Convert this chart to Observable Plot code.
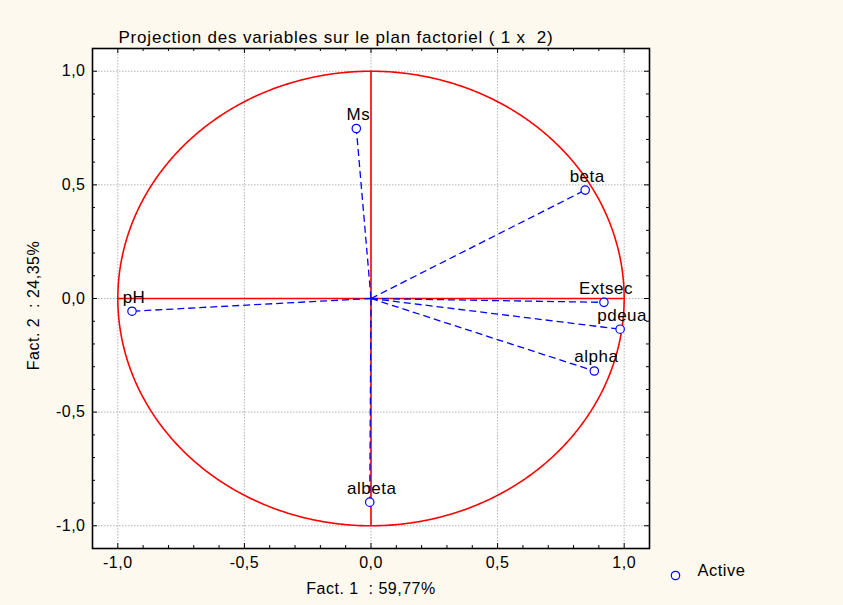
<!DOCTYPE html>
<html>
<head>
<meta charset="utf-8">
<script src="https://cdn.jsdelivr.net/npm/d3@7"></script>
<script src="https://cdn.jsdelivr.net/npm/@observablehq/plot@0.6"></script>
<style>
  html, body { margin: 0; padding: 0; background: #fdf9ef; }
  #chart svg text { letter-spacing: 0.5px; }
  #chart svg .ttl text { letter-spacing: 0.8px; }
</style>
</head>
<body>
<div id="chart"></div>
<script>
// Variable names and their coordinates on the factorial plane
const labels = ["Ms", "beta", "Extsec", "pdeua", "alpha", "pH", "albeta"];
const fact1 = [-0.058, 0.846, 0.92, 0.984, 0.882, -0.944, -0.005];
const fact2 = [0.748, 0.477, -0.017, -0.135, -0.319, -0.056, -0.896];

const majorTicks = [-1, -0.5, 0, 0.5, 1];
const minorTicks = [-1.1, -0.9, -0.8, -0.7, -0.6, -0.4, -0.3, -0.2, -0.1, 0.1, 0.2, 0.3, 0.4, 0.6, 0.7, 0.8, 0.9, 1.1];

const title = "Projection des variables sur le plan factoriel ( 1 x  2)";
const xTitle = "Fact. 1  : 59,77%";
const yTitle = "Fact. 2  : 24,35%";
const legendLabel = "Active";

const vars = labels.map((name, i) => ({name, x: fact1[i], y: fact2[i]}));

// unit correlation circle (reference geometry)
const circle = d3.range(0, 361, 1).map(a => ({x: Math.cos(a * Math.PI / 180), y: Math.sin(a * Math.PI / 180)}));

const W = 843, H = 605;
const mL = 92, mR = 194, mT = 48, mB = 57;
const pw = W - mL - mR, ph = H - mT - mB;
const fmt = d => d3.format(".1f")(d).replace(".", ",").replace("\u2212", "-");
const font = "'Liberation Sans', Arial, sans-serif";
const blue = "#0000ff", red = "#ff0000";

const chart = Plot.plot({
  width: W, height: H,
  marginLeft: mL, marginRight: mR, marginTop: mT, marginBottom: mB,
  style: {fontFamily: font, background: "transparent", color: "black", overflow: "visible"},
  x: {domain: [-1.1, 1.1], axis: null},
  y: {domain: [-1.1, 1.1], axis: null},
  marks: [
    Plot.frame({fill: "white", stroke: "none"}),
    // grid
    Plot.ruleX(majorTicks, {stroke: "#b5b5b5", strokeDasharray: "1.5,1.5", strokeWidth: 1}),
    Plot.ruleY(majorTicks, {stroke: "#b5b5b5", strokeDasharray: "1.5,1.5", strokeWidth: 1}),
    // circle and axes
    Plot.line(circle, {x: "x", y: "y", stroke: red, strokeWidth: 1.6, strokeDasharray: "3,0.6"}),
    Plot.ruleX([0], {y1: -1, y2: 1, stroke: red, strokeWidth: 1.6}),
    Plot.ruleY([0], {x1: -1, x2: 1, stroke: red, strokeWidth: 1.6}),
    // vectors
    Plot.link(vars, {x1: () => 0, y1: () => 0, x2: "x", y2: "y", stroke: blue, strokeWidth: 1.3, strokeDasharray: "7,4"}),
    Plot.dot(vars, {x: "x", y: "y", r: 4.2, stroke: blue, fill: "white", strokeWidth: 1.2}),
    Plot.text(vars, {x: "x", y: "y", text: "name", dx: 2, dy: -14, fontSize: 17, fill: "black"}),
    // inner ticks
    Plot.tickX(majorTicks, {x: d => d, insetBottom: ph - 5, stroke: "black"}),
    Plot.tickX(minorTicks, {x: d => d, insetBottom: ph - 3, stroke: "black"}),
    Plot.tickX(majorTicks, {x: d => d, insetTop: ph - 5, stroke: "black"}),
    Plot.tickX(minorTicks, {x: d => d, insetTop: ph - 3, stroke: "black"}),
    Plot.tickY(majorTicks, {y: d => d, insetRight: pw - 5, stroke: "black"}),
    Plot.tickY(minorTicks, {y: d => d, insetRight: pw - 3, stroke: "black"}),
    Plot.tickY(majorTicks, {y: d => d, insetLeft: pw - 5, stroke: "black"}),
    Plot.tickY(minorTicks, {y: d => d, insetLeft: pw - 3, stroke: "black"}),
    Plot.frame({stroke: "black", strokeWidth: 1.6}),
    // tick labels
    Plot.text(majorTicks, {x: d => d, frameAnchor: "bottom", dy: 19, text: fmt, fontSize: 16, fill: "black"}),
    Plot.text(majorTicks, {y: d => d, frameAnchor: "left", dx: -7, textAnchor: "end", text: fmt, fontSize: 16, fill: "black"}),
    // titles
    Plot.text([title], {frameAnchor: "top", dx: -35, dy: -18, text: d => d, fontSize: 17, fill: "black", className: "ttl"}),
    Plot.text([xTitle], {frameAnchor: "bottom", dy: 45, text: d => d, fontSize: 16, fill: "black"}),
    Plot.text([yTitle], {frameAnchor: "left", dx: -59, dy: 7, rotate: -90, textAnchor: "middle", text: d => d, fontSize: 16, fill: "black"}),
    // legend
    Plot.dot([legendLabel], {frameAnchor: "bottom-right", dx: 26, dy: 27, r: 4.2, stroke: blue, fill: "none", strokeWidth: 1.2}),
    Plot.text([legendLabel], {frameAnchor: "bottom-right", dx: 48, dy: 27, text: d => d, textAnchor: "start", fontSize: 16.5, fill: "black"})
  ]
});
document.getElementById("chart").appendChild(chart);
</script>
</body>
</html>
